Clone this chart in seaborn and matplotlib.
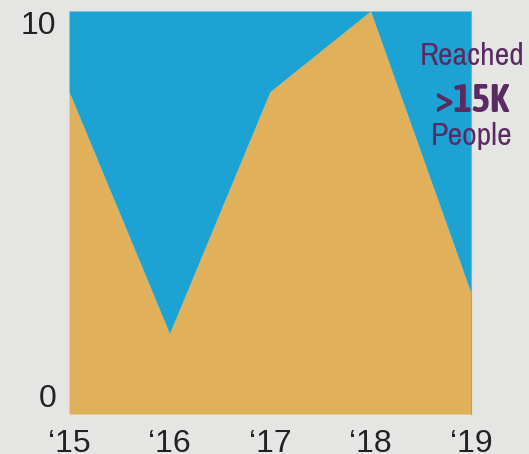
import matplotlib.pyplot as plt
import seaborn as sns

years = ["\u201815", "\u201816", "\u201817", "\u201818", "\u201819"]
reached = [8, 2, 8, 10, 3]
remainder = [2, 8, 2, 0, 7]

sns.set_theme(style="white")
plt.rcParams['font.family'] = ['Liberation Sans', 'DejaVu Sans']

bg = "#e5e5e3"
fig = plt.figure(figsize=(5.29, 4.54), dpi=100, facecolor=bg)
ax = fig.add_axes([69 / 529, 40 / 454, 402 / 529, 403 / 454])
ax.set_facecolor(bg)

x = list(range(len(years)))
ax.stackplot(x, reached, remainder, colors=["#e0b15a", "#1da3d3"], linewidth=0)

ax.set_xlim(0, 4)
ax.set_ylim(0, 10)
ax.set_xticks(x)
ax.set_xticklabels(years, fontsize=23, color="#222222")
ax.set_yticks([0, 10])
ax.set_yticklabels(["0", "10"], fontsize=23, color="#222222")
ax.get_yticklabels()[0].set_va("bottom")
ax.get_yticklabels()[1].set_va("top")
ax.tick_params(axis="y", length=0, pad=9)
ax.tick_params(axis="x", length=0, pad=11)

for s in ["top", "left", "bottom"]:
    ax.spines[s].set_visible(False)
ax.spines["right"].set_color("#8fae8f")
ax.spines["right"].set_linewidth(0.8)

purple = "#5a2a62"
narrow = ["Archivo Narrow", "Barlow Condensed", "DejaVu Sans"]
cond_bold = ["Asap Condensed", "Barlow Condensed", "DejaVu Sans"]
ax.text(4.01, 8.66, "Reached", ha="center", va="baseline", fontsize=23,
        color=purple, family=narrow, clip_on=False)
ax.text(4.01, 7.49, ">15K", ha="center", va="baseline", fontsize=28, fontweight="bold",
        color=purple, family=cond_bold, clip_on=False)
ax.text(4.01, 6.67, "People", ha="center", va="baseline", fontsize=23,
        color=purple, family=narrow, clip_on=False)

fig.savefig("out.png", dpi=100, facecolor=bg)
